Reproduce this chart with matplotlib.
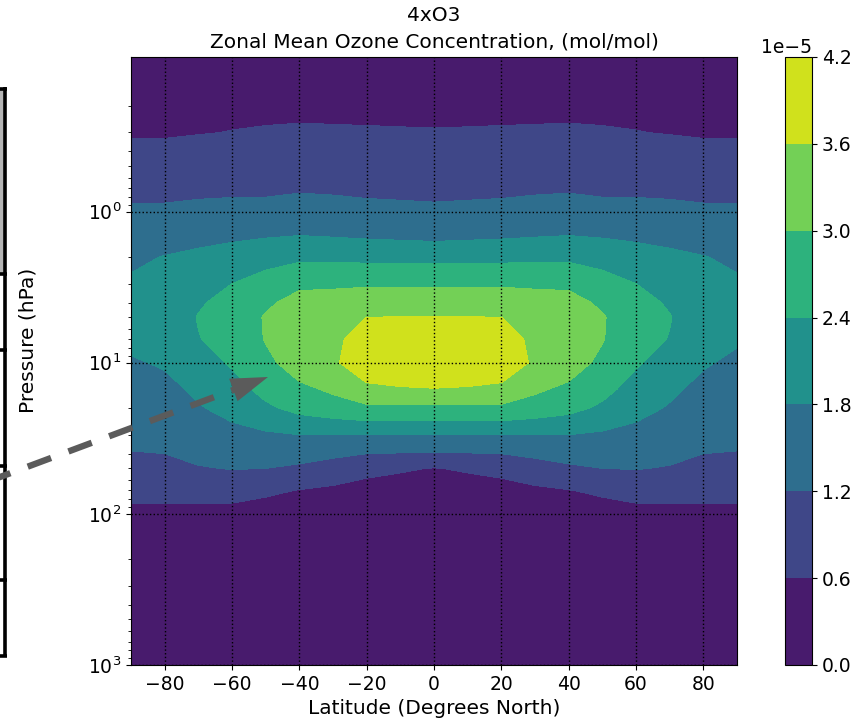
import numpy as np
import matplotlib
matplotlib.use("Agg")
import matplotlib.pyplot as plt
from matplotlib.lines import Line2D
from matplotlib.patches import Rectangle, Polygon

plt.rcParams['font.family'] = ['DejaVu Sans']
plt.rcParams['font.size'] = 13.5

# ---- data (ozone in units of 1e-5 mol/mol) ----
latitudes = [-90, -80, -70, -60, -50, -40, -30, -20, -10, 0, 10, 20, 30, 40, 50, 60, 70, 80, 90]
pressure_hpa = [0.095, 0.2, 0.3, 0.5, 0.7, 1, 1.5, 2, 3, 4, 5, 7, 10, 15, 20, 30, 40, 50, 70, 100, 150, 200, 300, 500, 700, 1000]

o3_s90 = [0.34, 0.50, 0.55, 0.90, 1.05, 1.30, 1.50, 1.70, 1.88, 1.95, 1.95, 1.90, 1.75, 1.55, 1.45, 1.30, 1.18, 1.08, 0.80, 0.40, 0.20, 0.09, 0.05, 0.04, 0.035, 0.03]
o3_s80 = [0.34, 0.50, 0.55, 0.90, 1.05, 1.30, 1.60, 1.82, 2.00, 2.10, 2.12, 2.05, 1.85, 1.65, 1.55, 1.35, 1.20, 1.10, 0.82, 0.40, 0.20, 0.09, 0.05, 0.04, 0.035, 0.03]
o3_s70 = [0.33, 0.52, 0.58, 0.98, 1.10, 1.33, 1.70, 1.90, 2.20, 2.35, 2.42, 2.38, 2.20, 1.90, 1.75, 1.50, 1.30, 1.17, 0.82, 0.40, 0.15, 0.08, 0.05, 0.04, 0.035, 0.03]
o3_s60 = [0.32, 0.52, 0.61, 1.00, 1.10, 1.38, 1.75, 2.00, 2.40, 2.55, 2.60, 2.60, 2.45, 2.20, 1.98, 1.60, 1.35, 1.22, 0.80, 0.40, 0.15, 0.08, 0.05, 0.04, 0.035, 0.03]
o3_s50 = [0.30, 0.50, 0.643, 1.00, 1.12, 1.35, 1.80, 2.20, 2.65, 2.90, 3.05, 3.03, 2.85, 2.55, 2.30, 1.70, 1.40, 1.20, 0.70, 0.30, 0.10, 0.07, 0.05, 0.04, 0.035, 0.03]
o3_s40 = [0.30, 0.52, 0.653, 1.05, 1.15, 1.42, 1.85, 2.30, 2.90, 3.20, 3.35, 3.45, 3.30, 2.85, 2.55, 1.80, 1.40, 1.10, 0.58, 0.25, 0.08, 0.06, 0.05, 0.04, 0.035, 0.03]
o3_s30 = [0.28, 0.52, 0.643, 1.02, 1.14, 1.37, 1.82, 2.28, 2.92, 3.22, 3.40, 3.50, 3.54, 3.10, 2.70, 1.80, 1.30, 0.95, 0.48, 0.20, 0.08, 0.06, 0.05, 0.04, 0.035, 0.03]
o3_s20 = [0.27, 0.51, 0.639, 1.00, 1.12, 1.32, 1.78, 2.27, 2.95, 3.25, 3.60, 3.80, 3.85, 3.50, 2.85, 1.78, 1.20, 0.75, 0.38, 0.15, 0.07, 0.05, 0.05, 0.04, 0.035, 0.03]
o3_s10 = [0.26, 0.50, 0.633, 0.97, 1.11, 1.30, 1.75, 2.26, 2.95, 3.25, 3.61, 3.85, 3.95, 3.55, 2.85, 1.78, 1.17, 0.66, 0.33, 0.13, 0.06, 0.05, 0.05, 0.04, 0.035, 0.03]
o3_eq  = [0.25, 0.50, 0.625, 0.95, 1.10, 1.28, 1.72, 2.25, 2.95, 3.25, 3.62, 3.90, 4.00, 3.58, 2.85, 1.78, 1.15, 0.58, 0.30, 0.12, 0.06, 0.05, 0.05, 0.04, 0.035, 0.03]
o3_n10 = [0.26, 0.50, 0.633, 0.97, 1.11, 1.30, 1.75, 2.26, 2.95, 3.25, 3.61, 3.85, 3.95, 3.55, 2.85, 1.78, 1.17, 0.66, 0.33, 0.13, 0.06, 0.05, 0.05, 0.04, 0.035, 0.03]
o3_n20 = [0.27, 0.51, 0.639, 1.00, 1.12, 1.32, 1.78, 2.27, 2.95, 3.25, 3.60, 3.80, 3.85, 3.50, 2.85, 1.78, 1.20, 0.75, 0.38, 0.15, 0.07, 0.05, 0.05, 0.04, 0.035, 0.03]
o3_n30 = [0.28, 0.52, 0.643, 1.02, 1.14, 1.37, 1.82, 2.28, 2.92, 3.22, 3.40, 3.50, 3.54, 3.10, 2.70, 1.80, 1.30, 0.95, 0.48, 0.20, 0.08, 0.06, 0.05, 0.04, 0.035, 0.03]
o3_n40 = [0.30, 0.52, 0.653, 1.05, 1.15, 1.42, 1.85, 2.30, 2.90, 3.20, 3.35, 3.45, 3.30, 2.85, 2.55, 1.80, 1.40, 1.10, 0.58, 0.25, 0.08, 0.06, 0.05, 0.04, 0.035, 0.03]
o3_n50 = [0.30, 0.50, 0.643, 1.00, 1.12, 1.35, 1.80, 2.20, 2.65, 2.90, 3.05, 3.03, 2.85, 2.55, 2.30, 1.70, 1.40, 1.20, 0.70, 0.30, 0.10, 0.07, 0.05, 0.04, 0.035, 0.03]
o3_n60 = [0.32, 0.52, 0.61, 1.00, 1.10, 1.38, 1.75, 2.00, 2.40, 2.55, 2.60, 2.60, 2.45, 2.20, 1.98, 1.60, 1.35, 1.22, 0.80, 0.40, 0.15, 0.08, 0.05, 0.04, 0.035, 0.03]
o3_n70 = [0.33, 0.52, 0.58, 0.98, 1.10, 1.33, 1.70, 1.90, 2.20, 2.35, 2.42, 2.38, 2.20, 1.90, 1.75, 1.50, 1.30, 1.17, 0.82, 0.40, 0.15, 0.08, 0.05, 0.04, 0.035, 0.03]
o3_n80 = [0.34, 0.50, 0.55, 0.90, 1.05, 1.30, 1.60, 1.82, 2.00, 2.10, 2.12, 2.05, 1.85, 1.65, 1.55, 1.35, 1.20, 1.10, 0.82, 0.40, 0.20, 0.09, 0.05, 0.04, 0.035, 0.03]
o3_n90 = [0.34, 0.50, 0.55, 0.90, 1.05, 1.30, 1.50, 1.70, 1.88, 1.95, 1.95, 1.85, 1.70, 1.55, 1.45, 1.30, 1.18, 1.08, 0.80, 0.40, 0.20, 0.09, 0.05, 0.04, 0.035, 0.03]

contour_levels = [0.0, 0.6, 1.2, 1.8, 2.4, 3.0, 3.6, 4.2]
xtick_values = [-80, -60, -40, -20, 0, 20, 40, 60, 80]
ytick_values = [1, 10, 100, 1000]

profiles = [o3_s90, o3_s80, o3_s70, o3_s60, o3_s50, o3_s40, o3_s30, o3_s20, o3_s10, o3_eq,
            o3_n10, o3_n20, o3_n30, o3_n40, o3_n50, o3_n60, o3_n70, o3_n80, o3_n90]
ozone = np.array(profiles).T * 1e-5          # shape (levels, lats)
levels = np.array(contour_levels) * 1e-5

W, H = 854, 722
fig = plt.figure(figsize=(W / 100, H / 100), dpi=100)

def fx(px):
    return px / W

def fy(py):
    return 1 - py / H

ax = fig.add_axes([fx(131), fy(665), (737 - 131) / W, (665 - 57) / H])
cax = fig.add_axes([fx(785), fy(665), 27 / W, (665 - 57) / H])

LAT, P = np.meshgrid(latitudes, pressure_hpa)
cf = ax.contourf(LAT, P, ozone, levels=levels, cmap='viridis')
ax.set_yscale('log')
ax.set_yticks(ytick_values)
ax.set_ylim(1000, 0.095)
ax.set_xlim(-90, 90)
ax.set_xticks(xtick_values)
ax.grid(True, which='major', linestyle=':', color='black', linewidth=1.0)
ax.set_xlabel('Latitude (Degrees North)', fontsize=14.5)
ax.set_ylabel('Pressure (hPa)', fontsize=14.5)
ax.yaxis.set_label_coords((37 - 131) / 606, (665 - 340) / 608)
ax.set_title('4xO3\nZonal Mean Ozone Concentration, (mol/mol)', fontsize=14.5,
             linespacing=1.5, pad=7)

cb = fig.colorbar(cf, cax=cax)
cb.set_ticks(levels)

# ---- left-side annotation remnants (box edge and dashed arrow) ----
def px_to_fig(x, y):
    return (fx(x), fy(y))

gray_box = Rectangle(px_to_fig(-2, 273), fx(7), (273 - 89) / H, transform=fig.transFigure,
                     facecolor='#b5b5b5', edgecolor='none', zorder=1)
fig.add_artist(gray_box)
for seg in [((5.5, 87), (5.5, 657)),
            ((-2, 88.5), (7, 88.5)),
            ((-2, 274), (7, 274)),
            ((-2, 350), (7, 350)),
            ((-2, 466), (7, 466)),
            ((-2, 580), (7, 580)),
            ((-2, 655.5), (7, 655.5))]:
    (x0, y0), (x1, y1) = seg
    fig.add_artist(Line2D([fx(x0), fx(x1)], [fy(y0), fy(y1)], transform=fig.transFigure,
                          color='black', linewidth=2.6, solid_capstyle='butt', zorder=2))

tail = np.array([-8.0, 480.0])
tip = np.array([268.0, 377.0])
d = tip - tail
d = d / np.hypot(*d)
perp = np.array([-d[1], d[0]])
head_len, head_half = 37.0, 12.0
base = tip - head_len * d
shaft_end = base + 2 * d
fig.add_artist(Line2D([fx(tail[0]), fx(shaft_end[0])], [fy(tail[1]), fy(shaft_end[1])],
                      transform=fig.transFigure, color='#5b5b5b', linewidth=4.6,
                      linestyle=(2.0, (3.9, 2.9)), solid_capstyle='butt', dash_capstyle='butt', zorder=5))
c1 = base + head_half * perp
c2 = base - head_half * perp
fig.add_artist(Polygon([px_to_fig(*tip), px_to_fig(*c1), px_to_fig(*c2)], closed=True,
                       transform=fig.transFigure, facecolor='#5b5b5b', edgecolor='none', zorder=5))

fig.savefig('out.png', dpi=100)
